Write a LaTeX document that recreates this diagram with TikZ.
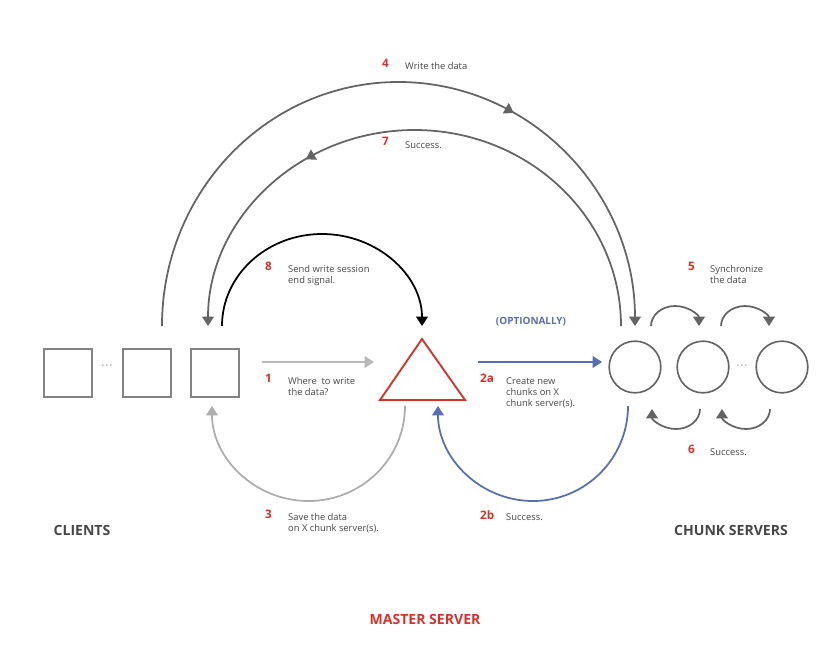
\documentclass[tikz,border=0pt]{standalone}
\usepackage{fontspec}
\setmainfont{Open Sans}
\usetikzlibrary{arrows.meta,decorations.markings}
\definecolor{gr}{RGB}{100,100,100}
\definecolor{lg}{RGB}{185,185,185}
\definecolor{rd}{RGB}{215,50,40}
\definecolor{bl}{RGB}{85,110,180}
\begin{document}
\begin{tikzpicture}[x=0.03cm,y=-0.03cm,
 box/.style={draw=gr!80,line width=1.4pt,minimum size=1.45cm,inner sep=0},
 cir/.style={draw=gr,line width=1.4pt,circle,minimum size=1.55cm,inner sep=0},
 ar/.style={line width=1.5pt,-{Triangle[length=8pt,width=10pt]}},
 mid/.style={postaction={decorate},decoration={markings,mark=at position #1 with {\arrow{Triangle[length=8pt,width=10pt]}}}},
 lab/.style={font=\fontsize{8}{9.5}\selectfont,text=gr!70!black,align=left,anchor=north west,inner sep=0},
 num/.style={font=\bfseries\fontsize{10}{11}\selectfont,text=rd,anchor=north west,inner sep=0},
 big/.style={font=\bfseries\fontsize{12}{13}\selectfont},
 dots/.style={text=gr,font=\bfseries}]
\useasboundingbox (0,0) rectangle (840,665);
\node[box] (s1) at (68,373) {};
\node[box] (s2) at (147,373) {};
\node[box] (s3) at (215,373) {};
\node[dots] (d1) at (107,366) {$\cdot\!\cdot\!\cdot$};
\draw[rd,line width=1.6pt] (422,339) -- (465,400) -- (380,400) -- cycle;
\node[cir] (c1) at (635,367) {};
\node[cir] (c2) at (703,367) {};
\node[cir] (c3) at (782,367) {};
\node[dots] (d2) at (742,366) {$\cdot\!\cdot\!\cdot$};
% arrows
\coordinate (a1s) at (262,362); \coordinate (a1e) at (374,362);
\draw[ar,lg] (a1s) -- (a1e);
\coordinate (a2s) at (478,362); \coordinate (a2e) at (602,362);
\draw[ar,bl] (a2s) -- (a2e);
\coordinate (o1) at (162,326);
\draw[gr,line width=1.5pt,mid=0.66,-{Triangle[length=8pt,width=10pt]}] (o1) arc(180:360:236.5 and 244);
\coordinate (i1) at (621,326);
\draw[gr,line width=1.5pt,mid=0.68,-{Triangle[length=8pt,width=10pt]}] (i1) arc(360:180:206.5 and 196);
\coordinate (b1) at (222,326);
\draw[ar,black] (b1) arc(180:360:100 and 92);
\coordinate (g1) at (405,406);
\draw[ar,lg!80!gray] (g1) arc(0:180:96.5 and 95);
\coordinate (bb1) at (628,406);
\draw[ar,bl] (bb1) arc(0:180:95 and 95);
% small
\foreach \x in {651,721}{\draw[ar,gr] (\x,326) arc(180:360:24 and 20);}
\foreach \x in {700,770}{\draw[ar,gr] (\x,409) arc(0:180:24 and 20);}
% labels
\node[num] (n4) at (382,59) {4}; \node[lab] (t4) at (405,62) {Write the data};
\node[num] (n7) at (382,137) {7}; \node[lab] (t7) at (405,141) {Success.};
\node[num] (n8) at (265,262) {8}; \node[lab] (t8) at (288,265) {Send write session\\end signal.};
\node[num] (n1) at (265,374) {1}; \node[lab] (t1) at (288,377) {Where\ \ to write\\the data?};
\node[num] (n3) at (265,510) {3}; \node[lab] (t3) at (288,513) {Save the data\\on X chunk server(s).};
\node[num] (n2a) at (480,374) {2a}; \node[lab] (t2a) at (506,377) {Create new\\chunks on X\\chunk server(s).};
\node[num] (n2b) at (480,510) {2b}; \node[lab] (t2b) at (506,513) {Success.};
\node[num] (n5) at (688,262) {5}; \node[lab] (t5) at (710,265) {Synchronize\\the data};
\node[num] (n6) at (688,445) {6}; \node[lab] (t6) at (710,448) {Success.};
\node[font=\bfseries\fontsize{8.5}{9}\selectfont,text=bl] (opt) at (531,322) {(OPTIONALLY)};
\node[big,text=gr!70!black] (cl) at (82,530) {CLIENTS};
\node[big,text=gr!70!black] (cs) at (731,530) {CHUNK SERVERS};
\node[big,text=rd] (ms) at (425,619) {MASTER SERVER};
\end{tikzpicture}
\end{document}
